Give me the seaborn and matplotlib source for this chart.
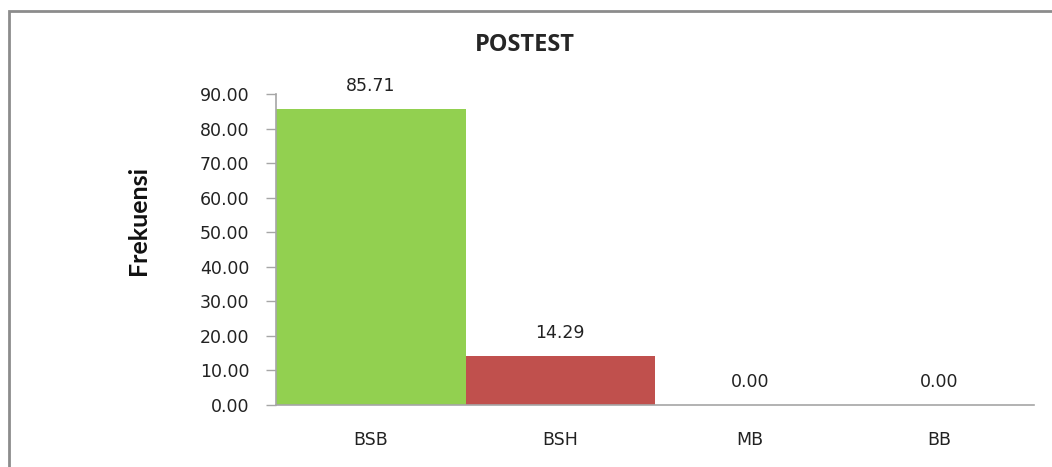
import matplotlib
matplotlib.use('Agg')
import matplotlib.pyplot as plt
import seaborn as sns
from matplotlib.patches import Rectangle

# Data
categories = ['BSB', 'BSH', 'MB', 'BB']
values = [85.71, 14.29, 0.00, 0.00]
bar_colors = ['#92D050', '#C0504D', '#4F81BD', '#8064A2']

sns.set_style('white')
plt.rcParams['font.family'] = ['DejaVu Sans']

fig = plt.figure(figsize=(10.52, 4.67), dpi=100)
ax = fig.add_axes([276 / 1052, 1 - 405 / 467, (1034 - 276) / 1052, (405 - 94) / 467])

sns.barplot(x=categories, y=values, hue=categories, palette=bar_colors,
            width=1.0, legend=False, saturation=1, linewidth=0, ax=ax)

ax.set_xlim(-0.5, 3.5)
ax.set_ylim(0, 90)
ax.set_yticks(range(0, 91, 10))
ax.set_yticklabels([f'{v:.2f}' for v in range(0, 91, 10)])

# value labels above bars
for i, v in enumerate(values):
    ax.annotate(f'{v:.2f}', (i, v), xytext=(0, 10), textcoords='offset points',
                ha='center', va='bottom', fontsize=12.5, color='#222222')

for side in ['top', 'right']:
    ax.spines[side].set_visible(False)
for side in ['left', 'bottom']:
    ax.spines[side].set_color('#A6A6A6')
    ax.spines[side].set_linewidth(1.2)

ax.tick_params(axis='y', direction='out', length=7, width=1, color='#A6A6A6',
               pad=12, labelsize=12.5, labelcolor='#222222', left=True)
ax.tick_params(axis='x', length=0, pad=19, labelsize=12.5, labelcolor='#222222')

ax.set_xlabel('')
ax.set_ylabel('Frekuensi', family=['Lato', 'DejaVu Sans'],
              fontweight='bold', fontsize=18, color='#111111')
ax.yaxis.set_label_coords((138 - 276) / 758, (405 - 220) / 311)
ax.yaxis.label.set_va('center')

fig.text(525 / 1052, 1 - 45 / 467, 'POSTEST', ha='center', va='center',
         fontsize=17, fontweight='bold', family=['Open Sans', 'DejaVu Sans'])

# outer chart frame (cropped at right and bottom)
fig.patches.append(Rectangle((9 / 1052, -0.1), 1.2, 1.1 - 11 / 467,
                             transform=fig.transFigure, fill=False,
                             edgecolor='#8C8C8C', linewidth=2))

fig.savefig('out.png', dpi=100)
